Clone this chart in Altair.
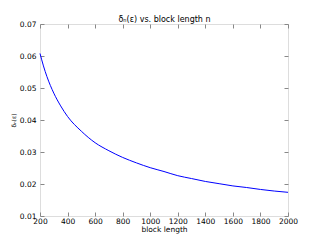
import altair as alt
import pandas as pd

# Data
n_values = [200, 225, 250, 300, 350, 400, 500, 600, 700, 800, 900, 1000,
            1100, 1200, 1300, 1400, 1500, 1600, 1700, 1800, 1900, 2000]
delta_values = [0.0608, 0.0569, 0.0536, 0.0484, 0.0444, 0.0411, 0.0365, 0.0329,
                0.0304, 0.0283, 0.0266, 0.0251, 0.0239, 0.0226, 0.0217, 0.0208,
                0.0201, 0.0194, 0.0189, 0.0183, 0.0178, 0.0174]
x_ticks = [200, 400, 600, 800, 1000, 1200, 1400, 1600, 1800, 2000]
y_ticks = [0.01, 0.02, 0.03, 0.04, 0.05, 0.06, 0.07]
chart_title = "δₙ(ε) vs. block length n"

df = pd.DataFrame({"n": n_values, "delta": delta_values})

FONT = "DejaVu Sans"
xscale = alt.Scale(domain=[200, 2000], nice=False, zero=False)
yscale = alt.Scale(domain=[0.01, 0.07], nice=False, zero=False)

base = alt.Chart(df)
line = base.mark_line(color="#0000ff", strokeWidth=1, interpolate="monotone")
ghost = base.mark_line(opacity=0)


def tick_axis(orient, values, title=""):
    return alt.Axis(orient=orient, values=values, offset=-4, tickSize=4,
                    labels=False, domain=False, grid=False, title=title,
                    titleFont=FONT, titleFontSize=8, titleFontWeight="normal",
                    titleColor="#000000", titlePadding=0,
                    tickColor="#888888", tickWidth=1)


main = line.encode(
    x=alt.X("n:Q", scale=xscale,
            axis=alt.Axis(orient="bottom", values=x_ticks, tickSize=0, domain=False,
                          grid=False, labelPadding=1, labelFont=FONT, labelFontSize=7.5,
                          labelColor="#000000", format="d", title="block length",
                          titleFont=FONT, titleFontSize=7.5, titleFontWeight="normal",
                          titlePadding=1, titleColor="#000000", labelFlush=False,
                          labelOverlap=False)),
    y=alt.Y("delta:Q", scale=yscale,
            axis=alt.Axis(orient="left", values=y_ticks, tickSize=0, domain=False,
                          grid=False, labelPadding=4, labelFont=FONT, labelFontSize=7.5,
                          labelColor="#000000", format=".2f", title="δₙ(ε)",
                          titleFont=FONT, titleFontSize=6, titleFontWeight="normal",
                          titlePadding=3, titleColor="#000000", labelFlush=False,
                          labelOverlap=False)),
)

t1 = ghost.encode(
    x=alt.X("n:Q", scale=xscale, axis=tick_axis("bottom", x_ticks)),
    y=alt.Y("delta:Q", scale=yscale, axis=tick_axis("left", y_ticks)),
)
t2 = ghost.encode(
    x=alt.X("n:Q", scale=xscale, axis=tick_axis("top", x_ticks, chart_title)),
    y=alt.Y("delta:Q", scale=yscale, axis=tick_axis("right", y_ticks)),
)

chart = (
    alt.layer(main, t1, t2)
    .resolve_axis(x="independent", y="independent")
    .properties(
        width=248,
        height=192,
        autosize=alt.AutoSizeParams(type="none"),
        padding={"left": 32, "top": 16, "right": 24, "bottom": 24},
    )
    .configure_view(stroke="#999999", strokeWidth=1.5)
    .configure(background="white")
)

chart.save("out.html", embed_options={"renderer": "svg", "actions": False})
